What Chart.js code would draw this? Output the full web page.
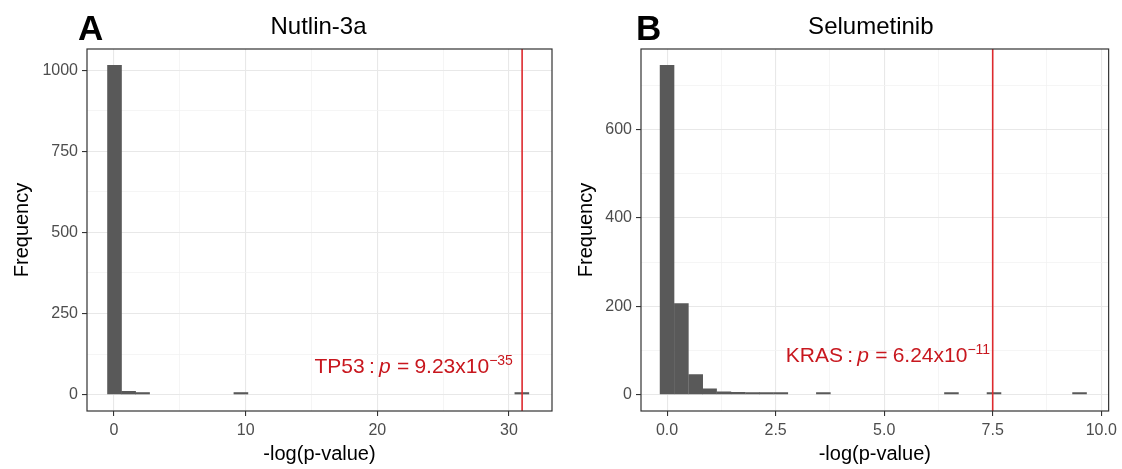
<!DOCTYPE html>
<html>
<head>
<meta charset="utf-8">
<script src="https://cdn.jsdelivr.net/npm/chart.js@4"></script>
<style>
  html, body { margin: 0; padding: 0; background: #fff; }
  #wrap { position: relative; width: 1122px; height: 469px; }
  canvas { position: absolute; top: 0; }
  #chartA { left: 0; }
  #chartB { left: 561px; }
</style>
</head>
<body>
<div id="wrap">
  <canvas id="chartA" width="561" height="469"></canvas>
  <canvas id="chartB" width="561" height="469"></canvas>
</div>
<script>
// Panel A: Nutlin-3a, histogram bin centres and counts (30 bins)
const binsA = [0.04, 1.11, 2.17, 3.24, 4.31, 5.38, 6.44, 7.51, 8.58, 9.64,
               10.71, 11.78, 12.84, 13.91, 14.98, 16.05, 17.11, 18.18, 19.25, 20.31,
               21.38, 22.45, 23.51, 24.58, 25.65, 26.72, 27.78, 28.85, 29.92, 30.98];
const countsA = [1015, 10, 4, 0, 0, 0, 0, 0, 0, 1,
                 0, 0, 0, 0, 0, 0, 0, 0, 0, 0,
                 0, 0, 0, 0, 0, 0, 0, 0, 0, 1];
const xTicksA = [0, 10, 20, 30];
const xMinorA = [5, 15, 25];
const yTicksA = [0, 250, 500, 750, 1000];
const yMinorA = [125, 375, 625, 875];
const hitA = 31.0;   // TP53
const hitLabelA = { gene: 'TP53', p: '9.23', exp: '35' };

// Panel B: Selumetinib
const binsB = [0, 0.33, 0.66, 0.98, 1.31, 1.64, 1.97, 2.29, 2.62, 2.95,
               3.28, 3.60, 3.93, 4.26, 4.59, 4.91, 5.24, 5.57, 5.90, 6.22,
               6.55, 6.88, 7.21, 7.53, 7.86, 8.19, 8.52, 8.85, 9.17, 9.50];
const countsB = [745, 206, 45, 13, 6, 5, 2, 2, 2, 0,
                 0, 1, 0, 0, 0, 0, 0, 0, 0, 0,
                 1, 0, 0, 1, 0, 0, 0, 0, 0, 1];
const xTicksB = [0, 2.5, 5, 7.5, 10];
const xMinorB = [1.25, 3.75, 6.25, 8.75];
const yTicksB = [0, 200, 400, 600];
const yMinorB = [100, 300, 500, 700];
const hitB = 7.5;    // KRAS
const hitLabelB = { gene: 'KRAS', p: '6.24', exp: '11' };

const FONT = "'Liberation Sans', Arial, sans-serif";
const RED = '#dd2a2e';
const RED_TEXT = '#c8171e';

// draws "GENE : p = 9.23x10^-35" right-aligned at (xr, yc)
function drawPlotmath(ctx, lab, xr, yc) {
  const fs = 21, sup = 14;
  const norm = fs + 'px ' + FONT, ital = 'italic ' + fs + 'px ' + FONT;
  const parts = [
    [lab.gene, norm, 0.2 * fs],
    [':', norm, 0.2 * fs],
    ['p', ital, 0.3 * fs],
    ['=', norm, 0.25 * fs],
    [lab.p + 'x10', norm, 0]
  ];
  let total = 0;
  parts.forEach(([t, f, g]) => { ctx.font = f; total += ctx.measureText(t).width + g; });
  ctx.font = sup + 'px ' + FONT;
  const supText = '\u2212' + lab.exp;
  total += ctx.measureText(supText).width;
  let x = xr - total;
  const base = yc + 7.5;
  ctx.fillStyle = RED_TEXT;
  ctx.textAlign = 'left';
  ctx.textBaseline = 'alphabetic';
  parts.forEach(([t, f, g]) => {
    ctx.font = f;
    ctx.fillText(t, x, base);
    x += ctx.measureText(t).width + g;
  });
  ctx.font = sup + 'px ' + FONT;
  ctx.fillText(supText, x, base - 8);
}

const panelDecor = {
  id: 'panelDecor',
  afterDraw(chart, args, opts) {
    const { ctx, chartArea: a, scales: { x, y } } = chart;
    ctx.save();
    // red line at the hit
    const px = x.getPixelForValue(opts.hit);
    ctx.strokeStyle = RED;
    ctx.lineWidth = 1.6;
    ctx.beginPath();
    ctx.moveTo(px, a.top);
    ctx.lineTo(px, a.bottom);
    ctx.stroke();
    drawPlotmath(ctx, opts.label, x.getPixelForValue(opts.labelX), y.getPixelForValue(opts.labelY));
    // panel border
    ctx.strokeStyle = '#333333';
    ctx.lineWidth = 1.2;
    ctx.strokeRect(a.left, a.top, a.right - a.left, a.bottom - a.top);
    // title + panel letter
    ctx.fillStyle = '#000';
    ctx.textAlign = 'center';
    ctx.textBaseline = 'alphabetic';
    ctx.font = '24px ' + FONT;
    ctx.fillText(opts.title, (a.left + a.right) / 2 + opts.titleShift, 33.5);
    ctx.textAlign = 'left';
    ctx.font = 'bold 35px ' + FONT;
    ctx.fillText(opts.letter, opts.letterX, 40);
    ctx.restore();
  }
};

function makeHistogram(id, p) {
  const data = p.bins.map((b, i) => ({ x: b, y: p.counts[i] === 0 ? null : p.counts[i] }));
  const isMajorX = v => p.xTicks.includes(v);
  const isMajorY = v => p.yTicks.includes(v);
  const gridFor = isMajor => ({
    color: c => isMajor(c.tick.value) ? '#e8e8e8' : '#f3f3f3',
    lineWidth: c => isMajor(c.tick.value) ? 1.1 : 0.8,
    tickColor: c => isMajor(c.tick.value) ? '#333333' : 'rgba(0,0,0,0)',
    tickWidth: 1.1,
    tickLength: 5,
    offset: false
  });
  return new Chart(document.getElementById(id), {
    type: 'bar',
    data: {
      datasets: [{
        data: data,
        backgroundColor: '#595959',
        borderWidth: 0,
        barPercentage: 1,
        categoryPercentage: 1,
        minBarLength: 2
      }]
    },
    options: {
      responsive: false,
      animation: false,
      layout: { padding: { left: 0, right: p.padRight, top: 49, bottom: 0 } },
      plugins: {
        legend: { display: false },
        tooltip: { enabled: false },
        panelDecor: p.decor
      },
      scales: {
        x: {
          type: 'linear',
          offset: false,
          min: p.xMin,
          max: p.xMax,
          border: { display: false },
          grid: gridFor(isMajorX),
          afterBuildTicks: s => { s.ticks = [...p.xTicks, ...p.xMinor].sort((a, b) => a - b).map(v => ({ value: v })); },
          afterFit: s => { s.height = 58; },
          ticks: {
            autoSkip: false,
            maxRotation: 0,
            padding: 5,
            color: '#4d4d4d',
            font: { family: FONT, size: 16 },
            callback: v => isMajorX(v) ? p.xFmt(v) : ''
          },
          title: {
            display: true,
            text: '-log(p-value)',
            color: '#000',
            font: { family: FONT, size: 20 },
            padding: { top: 0, bottom: 3 }
          }
        },
        y: {
          min: p.yMin,
          max: p.yMax,
          border: { display: false },
          grid: gridFor(isMajorY),
          afterBuildTicks: s => { s.ticks = [...p.yTicks, ...p.yMinor].sort((a, b) => a - b).map(v => ({ value: v })); },
          afterFit: s => { s.width = p.yWidth; },
          ticks: {
            autoSkip: false,
            padding: 4,
            color: '#4d4d4d',
            font: { family: FONT, size: 16 },
            callback: v => isMajorY(v) ? String(v) : ''
          },
          title: {
            display: true,
            text: 'Frequency',
            color: '#000',
            font: { family: FONT, size: 20 },
            padding: { top: p.yTitlePad, bottom: 0 }
          }
        }
      }
    },
    plugins: [panelDecor]
  });
}

makeHistogram('chartA', {
  bins: binsA, counts: countsA,
  xTicks: xTicksA, xMinor: xMinorA, yTicks: yTicksA, yMinor: yMinorA,
  xMin: -2.05, xMax: 33.27, yMin: -50.75, yMax: 1065.75,
  xFmt: v => String(v),
  yWidth: 87, padRight: 9, yTitlePad: 10,
  decor: { hit: hitA, label: hitLabelA, labelX: 30.3, labelY: 90,
           title: 'Nutlin-3a', titleShift: -1, letter: 'A', letterX: 78 }
});

makeHistogram('chartB', {
  bins: binsB, counts: countsB,
  xTicks: xTicksB, xMinor: xMinorB, yTicks: yTicksB, yMinor: yMinorB,
  xMin: -0.6, xMax: 10.17, yMin: -37.25, yMax: 782.25,
  xFmt: v => v.toFixed(1),
  yWidth: 80, padRight: 11, yTitlePad: 13,
  decor: { hit: hitB, label: hitLabelB, labelX: 7.44, labelY: 90,
           title: 'Selumetinib', titleShift: -4, letter: 'B', letterX: 75 }
});
</script>
</body>
</html>
